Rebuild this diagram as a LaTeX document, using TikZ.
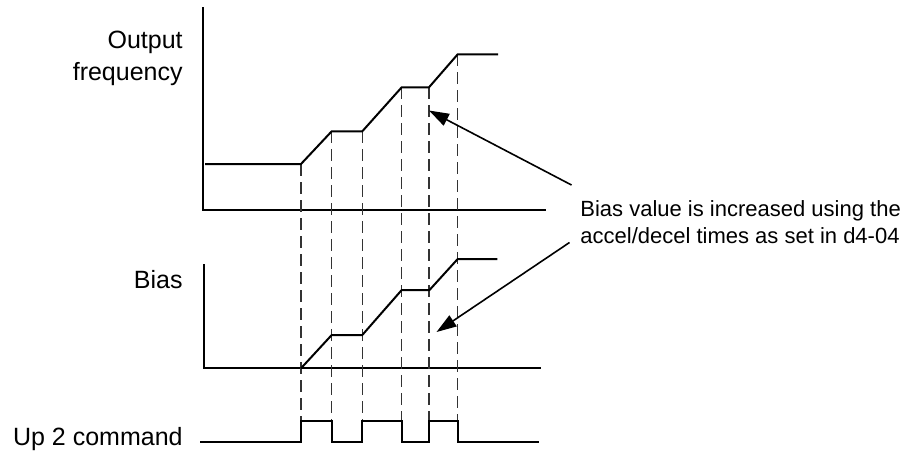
\documentclass[tikz,border=0pt]{standalone}
\usepackage{fontspec}
\setmainfont{Liberation Sans}
\usetikzlibrary{arrows.meta,positioning}
\definecolor{tinta}{RGB}{0,0,0}
\tikzset{
  eje/.style={draw=tinta, line width=1pt},
  onda/.style={draw=tinta, line width=1pt, line join=miter},
  guia/.style={draw=tinta!80, line width=0.6pt, dash pattern=on 6pt off 3pt},
  fl/.style={-{Triangle[length=10pt, width=6.5pt]}, line width=0.8pt, tinta},
  et/.style={inner sep=0pt, align=right, text=tinta, font=\fontsize{12.5}{16}\selectfont},
  nota/.style={inner sep=0pt, align=left, text=tinta, font=\fontsize{11}{13.5}\selectfont},
}
\begin{document}
\begin{tikzpicture}[x=0.5pt, y=-0.5pt]
  \useasboundingbox (0,0) rectangle (904,450);
  \node[et, anchor=base east] (fsal) at (183,80) {Output\\frequency};
  \node[et, anchor=base east] (bias) at (183,288.5) {Bias};
  \node[et, anchor=base east] (up2) at (183,445) {Up 2 command};
  \node[nota, anchor=base west] (nota) at (580,243) {Bias value is increased using the\\accel/decel times as set in d4-04};
  \draw[eje] (202.7,7) -- (202.7,210) -- (546,210);
  \draw[eje] (204,264) -- (204,368.3) -- (541,368.3);
  \foreach \t/\y in {301/164, 331.7/131.3, 362.3/131.3, 401.7/87.3, 429/87.3, 457.7/54.3}
    \draw[guia] (\t,\y) -- (\t,421);
  \draw[onda] (205,164) -- (301,164) -- (331.7,131.3) -- (362.3,131.3) -- (401.7,87.3) -- (429,87.3) -- (457.7,54.3) -- (498,54.3);
  \draw[onda] (301,368.3) -- (331.7,335) -- (362.3,335) -- (401.7,290) -- (429.5,290) -- (457.7,259) -- (497.3,259);
  \draw[onda] (200,442) -- (301,442) |- (331.7,421) |- (362.3,442) |- (401.7,421) |- (429,442) |- (457.7,421) |- (539,442);
  \coordinate (cola1) at (571.5,185);
  \coordinate (punta1) at (429,110.5);
  \coordinate (cola2) at (569.5,242.5);
  \coordinate (punta2) at (436.5,332);
  \draw[fl] (cola1) -- (punta1);
  \draw[fl] (cola2) -- (punta2);
\end{tikzpicture}
\end{document}
